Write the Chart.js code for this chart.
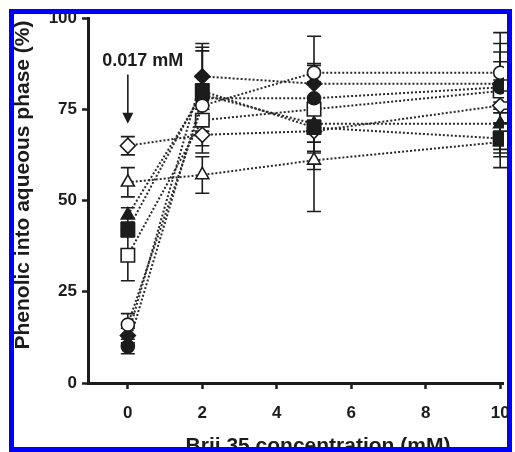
<!DOCTYPE html>
<html>
<head>
<meta charset="utf-8">
<script src="https://cdn.jsdelivr.net/npm/chart.js@4/dist/chart.umd.min.js"></script>
<style>
  html, body { margin: 0; padding: 0; background: #fff; }
  #wrap { width: 515px; height: 452px; }
</style>
</head>
<body>
<div id="wrap"><canvas id="chart" width="515" height="452"></canvas></div>
<script>
// Brij 35 concentration (mM)
const concentrations = [0, 2, 5, 10];

// phenolic recovered into aqueous phase (%), one array per marker style
const openCircle = [16, 76, 85, 85];
const filledCircle = [10, 78, 78, 81];
const openSquare = [35, 72, 75, 80];
const filledSquare = [42, 80, 70, 67];
const openTriangle = [55, 57, 61, 66];
const filledTriangle = [46, 79, 71, 71];
const openDiamond = [65, 68, 69, 76];
const filledDiamond = [13, 84, 82, 82];

// standard deviations
const openCircleErr = [3, 4, 2.5, 11];
const filledCircleErr = [2, 13, 4, 9.7];
const openSquareErr = [7, 3, 3, 3];
const filledSquareErr = [2, 12, 7, 8];
const openTriangleErr = [4, 5, 2.5, 3];
const filledTriangleErr = [2, 3, 24, 9];
const openDiamondErr = [2.5, 5, 3, 12];
const filledDiamondErr = [2, 9, 5, 11];

const xTicks = [0, 2, 4, 6, 8, 10];
const yTicks = [0, 25, 50, 75, 100];

const xTitle = "Brij 35 concentration (mM)";
const yTitle = "Phenolic into aqueous phase (%)";
const cmcLabel = "0.017 mM";

const ink = "#1c1c1c";
const fontFamily = "'Liberation Sans', Arial, Helvetica, sans-serif";

function series(values, errors, style, filled, radius) {
  return {
    data: concentrations.map((c, i) => ({ x: c, y: values[i] })),
    errors: errors,
    showLine: true,
    borderColor: "#2a2a2a",
    borderWidth: 2,
    borderDash: [2, 2],
    pointStyle: style,
    pointRadius: radius,
    pointBorderWidth: 1.6,
    pointBorderColor: ink,
    pointBackgroundColor: filled ? ink : "#ffffff",
    fill: false,
    tension: 0,
  };
}

const datasets = [
  series(openCircle, openCircleErr, "circle", false, 6.5),
  series(filledCircle, filledCircleErr, "circle", true, 6.5),
  series(openSquare, openSquareErr, "rect", false, 9.5),
  series(filledSquare, filledSquareErr, "rect", true, 9.5),
  series(openTriangle, openTriangleErr, "triangle", false, 7.5),
  series(filledTriangle, filledTriangleErr, "triangle", true, 7.5),
  series(openDiamond, openDiamondErr, "rectRot", false, 7.5),
  series(filledDiamond, filledDiamondErr, "rectRot", true, 7.5),
];

// error bars, drawn under the markers
const errorBars = {
  id: "errorBars",
  beforeDatasetsDraw(chart) {
    const ctx = chart.ctx;
    const y = chart.scales.y;
    ctx.save();
    ctx.strokeStyle = ink;
    ctx.lineWidth = 1.6;
    chart.data.datasets.forEach((ds, di) => {
      const meta = chart.getDatasetMeta(di);
      meta.data.forEach((pt, i) => {
        const v = ds.data[i].y;
        const e = ds.errors[i];
        const top = y.getPixelForValue(v + e);
        const bot = y.getPixelForValue(v - e);
        ctx.beginPath();
        ctx.moveTo(pt.x, top);
        ctx.lineTo(pt.x, bot);
        ctx.moveTo(pt.x - 7, top);
        ctx.lineTo(pt.x + 7, top);
        ctx.moveTo(pt.x - 7, bot);
        ctx.lineTo(pt.x + 7, bot);
        ctx.stroke();
      });
    });
    ctx.restore();
  },
};

// arrow + label for the CMC, titles and the blue frame
const decorations = {
  id: "decorations",
  afterDraw(chart) {
    const ctx = chart.ctx;
    const xs = chart.scales.x;
    const ys = chart.scales.y;
    ctx.save();

    // arrow at x = 0
    const ax = xs.getPixelForValue(0);
    const aTop = ys.getPixelForValue(84.5);
    const aTip = ys.getPixelForValue(71);
    ctx.strokeStyle = ink;
    ctx.fillStyle = ink;
    ctx.lineWidth = 1.6;
    ctx.beginPath();
    ctx.moveTo(ax, aTop);
    ctx.lineTo(ax, aTip - 8);
    ctx.stroke();
    ctx.beginPath();
    ctx.moveTo(ax - 5.5, aTip - 11);
    ctx.lineTo(ax + 5.5, aTip - 11);
    ctx.lineTo(ax, aTip);
    ctx.closePath();
    ctx.fill();

    ctx.font = "bold 18px " + fontFamily;
    ctx.textAlign = "center";
    ctx.textBaseline = "middle";
    ctx.fillText(cmcLabel, xs.getPixelForValue(0.4), ys.getPixelForValue(88.2));

    // axis titles
    ctx.font = "bold 21px " + fontFamily;
    ctx.textAlign = "center";
    ctx.textBaseline = "alphabetic";
    ctx.fillText(xTitle, 318, 452);

    ctx.save();
    ctx.translate(29, 185);
    ctx.rotate(-Math.PI / 2);
    ctx.fillText(yTitle, 0, 0);
    ctx.restore();

    // cropped figure frame
    ctx.fillStyle = "#ffffff";
    ctx.fillRect(0, 0, 515, 9);
    ctx.fillRect(0, 0, 9, 452);
    ctx.fillRect(512, 0, 3, 452);
    ctx.strokeStyle = "#0000ff";
    ctx.lineWidth = 5;
    ctx.strokeRect(11.5, 11.5, 498, 438);
    ctx.restore();
  },
};

const config = {
  type: "scatter",
  data: { datasets: datasets },
  options: {
    responsive: false,
    animation: false,
    devicePixelRatio: 1,
    layout: { padding: { left: 0, top: 18, right: 8, bottom: 0 } },
    plugins: {
      legend: { display: false },
      tooltip: { enabled: false },
    },
    scales: {
      x: {
        type: "linear",
        min: -1.07,
        max: 10.1,
        afterBuildTicks(scale) {
          scale.ticks = xTicks.map((v) => ({ value: v }));
        },
        afterFit(scale) {
          scale.height = 69;
          scale.paddingLeft = 0;
          scale.paddingRight = 0;
        },
        grid: {
          display: true,
          drawOnChartArea: false,
          drawTicks: true,
          tickLength: 6,
          tickWidth: 2.5,
          tickColor: ink,
        },
        border: { display: true, width: 3, color: ink },
        ticks: {
          color: ink,
          padding: 14,
          maxRotation: 0,
          font: { family: fontFamily, size: 17, weight: "bold" },
        },
      },
      y: {
        type: "linear",
        min: 0,
        max: 100,
        afterBuildTicks(scale) {
          scale.ticks = yTicks.map((v) => ({ value: v }));
        },
        afterFit(scale) {
          scale.width = 88;
          scale.paddingTop = 0;
          scale.paddingBottom = 0;
        },
        grid: {
          display: true,
          drawOnChartArea: false,
          drawTicks: true,
          tickLength: 6,
          tickWidth: 2.5,
          tickColor: ink,
        },
        border: { display: true, width: 3, color: ink },
        ticks: {
          color: ink,
          padding: 5,
          font: { family: fontFamily, size: 17, weight: "bold" },
        },
      },
    },
  },
  plugins: [errorBars, decorations],
};

new Chart(document.getElementById("chart"), config);
</script>
</body>
</html>
